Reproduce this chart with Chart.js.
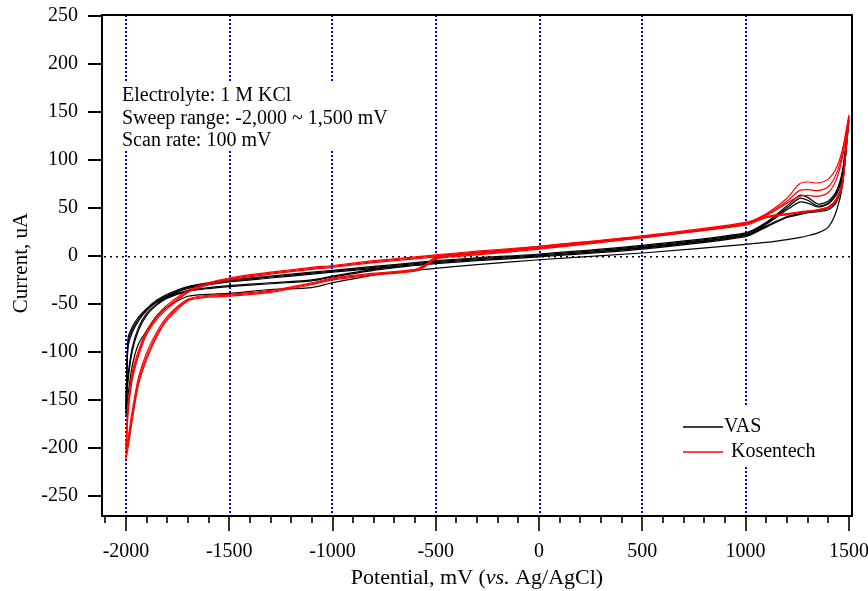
<!DOCTYPE html>
<html>
<head>
<meta charset="utf-8">
<script src="https://cdn.jsdelivr.net/npm/chart.js@4.4.1/dist/chart.umd.min.js"></script>
<style>
  html, body { margin: 0; padding: 0; background: #fff; }
</style>
</head>
<body>
<canvas id="cv" width="868" height="591"></canvas>
<script>
// potential grid (mV), forward scans use it left to right, reverse scans right to left
const potential = [-2000, -1990, -1970, -1940, -1900, -1850, -1800, -1700, -1600, -1500, -1300, -1100, -1000, -800, -600, -550, -500, -300, 0, 500, 1000, 1100, 1200, 1260, 1300, 1350, 1400, 1440, 1470, 1500];

// VAS (black), current in uA
const vasFwd1 = [-165, -86, -74, -64, -55, -46, -40, -32, -28, -25, -21, -17, -15, -11, -7, -6, -5, -2, 2, 11, 24, 35, 52, 63, 61, 54, 57, 68, 90, 145];
const vasFwd2 = [-160, -90, -77, -66, -56, -47, -41, -33, -29, -26, -22, -18, -16, -12, -8, -7, -6, -3, 1, 10, 23, 34, 50, 60, 58, 52, 55, 66, 88, 142];
const vasFwd3 = [-155, -95, -80, -68, -57, -48, -42, -34, -30, -27, -23, -19, -17, -13, -9, -8, -7, -4, 0, 9, 22, 33, 48, 56, 55, 51, 54, 64, 86, 140];
const vasRev1 = [-168, -145, -115, -92, -78, -62, -53, -42, -40, -39, -35, -33, -28, -20, -15, -14, -13, -9, -4, 3, 12, 14, 17, 19, 21, 24, 30, 47, 75, 145];
const vasRev2 = [-160, -130, -100, -78, -62, -51, -44, -37, -34, -32, -29, -26, -22, -15, -10, -9, -8, -5, -1, 7, 20, 30, 40, 43, 45, 46, 48, 56, 78, 142];
const vasRev3 = [-158, -125, -96, -75, -60, -50, -43, -36, -33, -31, -28, -25, -21, -14, -9, -8, -7, -4, 0, 8, 21, 31, 41, 44, 46, 47, 50, 58, 81, 140];

// Kosentech (red)
const kosFwd1 = [-212, -165, -130, -105, -82, -66, -55, -38, -30, -25, -19, -14, -12, -7, -3, -2, -1, 3, 10, 21, 35, 44, 60, 75, 77, 76, 80, 92, 112, 147];
const kosFwd2 = [-205, -160, -126, -102, -80, -64, -53, -37, -29, -24, -18, -13, -11, -6, -2, -1, 0, 4, 9, 20, 34, 43, 57, 68, 69, 68, 72, 86, 108, 145];
const kosFwd3 = [-200, -155, -122, -99, -78, -62, -51, -36, -28, -23, -17, -12, -10, -5, -1, 0, 1, 5, 10, 20, 34, 42, 55, 62, 63, 62, 66, 80, 104, 143];
const kosRev1 = [-212, -200, -172, -135, -108, -84, -67, -47, -43, -42, -38, -30, -25, -20, -16, -11, -3, 1, 7, 19, 32, 40, 43, 45, 46, 47, 50, 58, 76, 147];
const kosRev2 = [-205, -195, -167, -131, -105, -82, -65, -46, -42, -41, -37, -29, -24, -19, -15, -10, -2, 2, 8, 20, 33, 41, 44, 46, 47, 48, 51, 60, 79, 145];
const kosRev3 = [-200, -190, -162, -127, -101, -79, -63, -45, -41, -40, -36, -28, -23, -18, -14, -9, -1, 3, 8, 19, 33, 40, 43, 45, 46, 48, 51, 59, 77, 143];

const xTicks = [-2000, -1500, -1000, -500, 0, 500, 1000, 1500];
const yTicks = [-250, -200, -150, -100, -50, 0, 50, 100, 150, 200, 250];
const xGrid = [-2000, -1500, -1000, -500, 0, 500, 1000];
const notes = ['Electrolyte: 1 M KCl', 'Sweep range: -2,000 ~ 1,500 mV', 'Scan rate: 100 mV'];
const seriesNames = ['VAS', 'Kosentech'];

const SERIF = "'Liberation Serif', 'Times New Roman', serif";

function loop(fwd, rev) {
  const pts = potential.map((x, i) => ({ x, y: fwd[i] }));
  for (let i = potential.length - 1; i >= 0; i--) pts.push({ x: potential[i], y: rev[i] });
  return pts;
}

function ds(fwd, rev, color, order) {
  return {
    data: loop(fwd, rev),
    showLine: true,
    borderColor: color,
    borderWidth: 1.2,
    pointRadius: 0,
    tension: 0.25,
    order: order
  };
}

const decor = {
  id: 'decor',
  beforeDatasetsDraw(chart) {
    const { ctx, chartArea: a, scales: { x, y } } = chart;
    ctx.save();
    // blue dotted verticals
    ctx.fillStyle = '#0000ff';
    xGrid.forEach(v => {
      const px = Math.round(x.getPixelForValue(v) / 2) * 2 - 1;
      for (let py = a.top; py < a.bottom; py += 4) ctx.fillRect(px, py, 2, 2);
    });
    // dotted zero line
    ctx.fillStyle = '#000';
    const zy = Math.round(y.getPixelForValue(0));
    for (let px = a.left + 2; px < a.right; px += 6) ctx.fillRect(px, zy, 2, 1.5);
    ctx.restore();
  },
  afterDraw(chart) {
    const { ctx, chartArea: a, scales: { x, y } } = chart;
    ctx.save();

    // white boxes behind notes and legend
    ctx.fillStyle = '#fff';
    ctx.fillRect(115, 81, 300, 70);
    ctx.fillRect(678, 406, 150, 59);

    // frame
    ctx.strokeStyle = '#000';
    ctx.lineWidth = 2;
    ctx.strokeRect(a.left, a.top, a.right - a.left, a.bottom - a.top);

    // y ticks
    yTicks.forEach(v => {
      const py = Math.round(y.getPixelForValue(v));
      ctx.beginPath(); ctx.moveTo(a.left - 14, py); ctx.lineTo(a.left, py); ctx.stroke();
    });
    // x ticks, minor every 100 mV
    ctx.lineWidth = 1.6;
    for (let v = -2100; v <= 1500; v += 100) {
      const px = Math.round(x.getPixelForValue(v));
      const len = v % 500 === 0 ? 15 : 7;
      ctx.beginPath(); ctx.moveTo(px, a.bottom); ctx.lineTo(px, a.bottom + len); ctx.stroke();
    }

    // notes
    ctx.fillStyle = '#000';
    ctx.font = '20px ' + SERIF;
    ctx.textAlign = 'left';
    ctx.textBaseline = 'alphabetic';
    notes.forEach((t, i) => ctx.fillText(t, 122, 101 + i * 22.5));

    // legend
    const legendColors = ['#000000', '#ff0000'];
    seriesNames.forEach((name, i) => {
      const ly = 427 + i * 25;
      ctx.strokeStyle = legendColors[i];
      ctx.lineWidth = 1.5;
      ctx.beginPath(); ctx.moveTo(683, ly); ctx.lineTo(723, ly); ctx.stroke();
      ctx.fillStyle = '#000';
      ctx.textBaseline = 'middle';
      ctx.fillText(name, i === 0 ? 724 : 731, ly);
    });

    // y title
    ctx.save();
    ctx.translate(21, 263);
    ctx.rotate(-Math.PI / 2);
    ctx.textAlign = 'center';
    ctx.textBaseline = 'middle';
    ctx.font = '21px ' + SERIF;
    ctx.fillText('Current, uA', 0, 0);
    ctx.restore();

    // x title with italic "vs."
    const parts = [['Potential, mV (', ''], ['vs.', 'italic '], [' Ag/AgCl)', '']];
    let total = 0;
    parts.forEach(p => { ctx.font = p[1] + '22px ' + SERIF; total += ctx.measureText(p[0]).width; });
    let tx = 477 - total / 2;
    ctx.textAlign = 'left';
    ctx.textBaseline = 'middle';
    parts.forEach(p => {
      ctx.font = p[1] + '22px ' + SERIF;
      ctx.fillText(p[0], tx, 578);
      tx += ctx.measureText(p[0]).width;
    });
    ctx.restore();
  }
};

const tickFont = { family: SERIF, size: 20 };

new Chart(document.getElementById('cv').getContext('2d'), {
  type: 'scatter',
  data: {
    datasets: [
      ds(vasFwd1, vasRev1, '#000000', 2),
      ds(vasFwd2, vasRev2, '#000000', 2),
      ds(vasFwd3, vasRev3, '#000000', 2),
      ds(kosFwd1, kosRev1, '#ff0000', 1),
      ds(kosFwd2, kosRev2, '#ff0000', 1),
      ds(kosFwd3, kosRev3, '#ff0000', 1)
    ]
  },
  options: {
    responsive: false,
    animation: false,
    layout: { padding: { left: 0, right: 16, top: 15, bottom: 0 } },
    plugins: { legend: { display: false }, tooltip: { enabled: false } },
    scales: {
      x: {
        type: 'linear',
        min: -2116,
        max: 1515,
        afterBuildTicks: s => { s.ticks = xTicks.map(v => ({ value: v })); },
        afterFit: s => { s.height = 75; s.paddingLeft = 0; s.paddingRight = 0; },
        ticks: { font: tickFont, color: '#000', padding: 24, maxRotation: 0, autoSkip: false, callback: v => String(v) },
        grid: { display: false, drawTicks: false },
        border: { display: false }
      },
      y: {
        type: 'linear',
        min: -271,
        max: 251,
        afterBuildTicks: s => { s.ticks = yTicks.map(v => ({ value: v })); },
        afterFit: s => { s.width = 102; s.paddingTop = 0; s.paddingBottom = 0; },
        ticks: { font: tickFont, color: '#000', padding: 24, autoSkip: false, callback: v => String(v) },
        grid: { display: false, drawTicks: false },
        border: { display: false }
      }
    }
  },
  plugins: [decor]
});
</script>
</body>
</html>
